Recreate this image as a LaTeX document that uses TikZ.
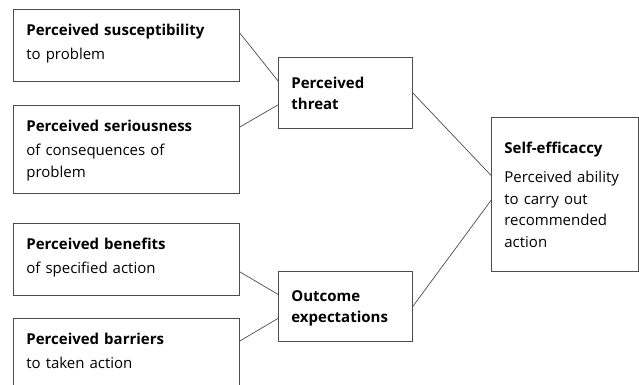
\documentclass[tikz,border=0pt]{standalone}
\usepackage{fontspec}
\setmainfont{Open Sans}
\usetikzlibrary{positioning}
\begin{document}
\begin{tikzpicture}[x=1pt, y=-1pt,
    every node/.style={draw=black!70, line width=0.8pt, anchor=north west, align=left, font=\fontsize{15}{21.5}\selectfont, inner xsep=13pt, inner ysep=0pt},
    factor/.style={text width=200pt, text height=26pt, text depth=46pt},
    link/.style={draw=black!70, line width=0.7pt}]
    \useasboundingbox (0,0) rectangle (639,384);
    \node[factor] (sus) at (13,9) {\textbf{Perceived susceptibility}\\[3pt]to problem};
    \node[factor, text depth=62pt] (ser) at (13,105) {\textbf{Perceived seriousness}\\[3pt]of consequences of\\problem};
    \node[factor] (ben) at (13,223) {\textbf{Perceived benefits}\\[3pt]of specified action};
    \node[factor] (bar) at (13,318) {\textbf{Perceived barriers}\\[3pt]to taken action};
    \node[text width=108pt, text height=31pt, text depth=40pt] (threat) at (278,57) {\textbf{Perceived}\\\textbf{threat}};
    \node[text width=108pt, text height=30pt, text depth=40pt] (outcome) at (278,271) {\textbf{Outcome}\\\textbf{expectations}};
    \node[text width=121pt, text height=36pt, text depth=118pt] (self) at (491,117) {\textbf{Self-efficaccy}\\[8pt]Perceived ability\\to carry out\\recommended\\action};
    \draw[link] ([yshift=-24pt]sus.north east) -- ([yshift=12pt]threat.west);
    \draw[link] ([yshift=-22pt]ser.north east) -- ([yshift=-12pt]threat.west);
    \draw[link] ([yshift=24pt]ben.south east) -- ([yshift=12pt]outcome.west);
    \draw[link] ([yshift=-23pt]bar.north east) -- ([yshift=-12pt]outcome.west);
    \draw[link] (threat.east) -- ([yshift=19pt]self.west);
    \draw[link] (outcome.east) -- ([yshift=-6pt]self.west);
\end{tikzpicture}
\end{document}
